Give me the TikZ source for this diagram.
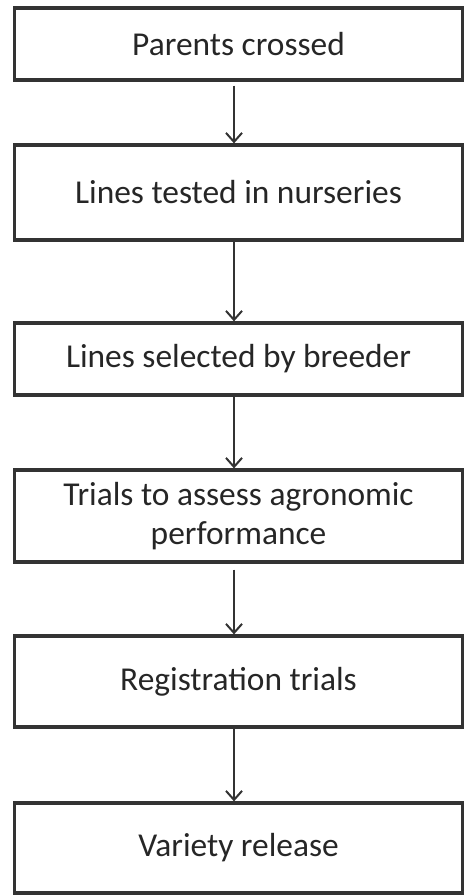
\documentclass[tikz,border=0pt]{standalone}
\usepackage{fontspec}
\setmainfont{Carlito}
\usetikzlibrary{arrows.meta}
\begin{document}
\begin{tikzpicture}[x=1pt,y=1pt,
  stepbox/.style={draw=black!80, line width=3.2pt, minimum width=448pt, inner sep=0pt,
    align=center, text=black!85, font=\fontsize{33.4}{39}\selectfont},
  conn/.style={draw=black!80, line width=1.6pt, -{Straight Barb[length=9pt,width=16pt,line width=2pt]}}]
\useasboundingbox (0,0) rectangle (466,-896);
\node[stepbox, minimum height=72pt] (a) at (238.5,-44) {Parents crossed};
\node[stepbox, minimum height=95pt] (b) at (238.5,-192.5) {Lines tested in nurseries};
\node[stepbox, minimum height=72pt] (c) at (238.5,-359) {Lines selected by breeder};
\node[stepbox, minimum height=92pt] (d) at (238.5,-516) {Trials to assess agronomic\\performance};
\node[stepbox, minimum height=91pt] (e) at (238.5,-681.5) {Registration trials};
\node[stepbox, minimum height=90pt] (f) at (238.5,-848) {Variety release};
\draw[conn, shorten <=4pt] ([xshift=-4.5pt]a.south) -- ([xshift=-4.5pt]b.north);
\draw[conn] ([xshift=-4.5pt]b.south) -- ([xshift=-4.5pt]c.north);
\draw[conn] ([xshift=-4.5pt]c.south) -- ([xshift=-4.5pt]d.north);
\draw[conn, shorten <=6pt] ([xshift=-4.5pt]d.south) -- ([xshift=-4.5pt]e.north);
\draw[conn] ([xshift=-4.5pt]e.south) -- ([xshift=-4.5pt]f.north);
\end{tikzpicture}
\end{document}
